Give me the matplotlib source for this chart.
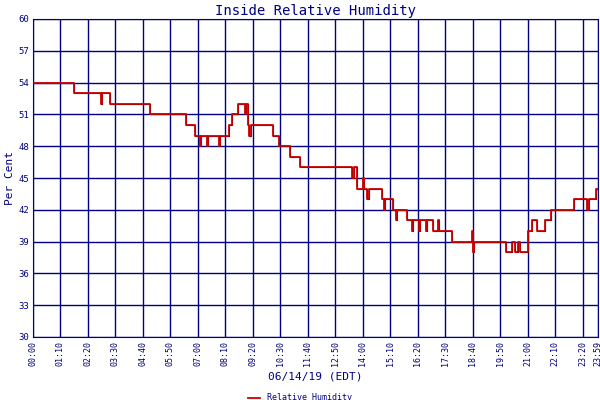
import matplotlib
matplotlib.use("Agg")
import matplotlib.pyplot as plt

# change points: hours, value (steps-post)
hours = [0, 1.74, 2.88, 2.92, 3.0, 3.27, 4.98, 5.02, 6.5, 6.88, 7.1, 7.14, 7.4, 7.45, 7.9, 7.95,
         8.33, 8.43, 8.72, 9.0, 9.06, 9.12, 9.18, 9.24, 10.2, 10.45, 10.9, 11.35,
         13.55, 13.62, 13.77, 14.0, 14.06, 14.2, 14.26, 14.8, 14.9, 14.95, 15.3, 15.4, 15.45,
         15.9, 16.1, 16.15, 16.4, 16.45, 16.7, 16.75, 17.0, 17.2, 17.25, 17.6, 17.8,
         18.65, 18.68, 18.72, 18.76, 20.1, 20.35, 20.45, 20.6, 20.7, 21.0, 21.2, 21.4, 21.75,
         22.0, 22.98, 23.52, 23.62, 23.9, 24.0]
values = [54, 53, 52, 53, 53, 52, 51, 51, 50, 49, 48, 49, 48, 49, 48, 49,
          50, 51, 52, 51, 52, 50, 49, 50, 49, 48, 47, 46,
          45, 46, 44, 45, 44, 43, 44, 43, 42, 43, 42, 41, 42,
          41, 40, 41, 40, 41, 40, 41, 40, 41, 40, 40, 39,
          40, 38, 39, 39, 38, 39, 38, 39, 38, 40, 41, 40, 41,
          42, 43, 42, 43, 44, 44]

tick_labels = ["00:00", "01:10", "02:20", "03:30", "04:40", "05:50", "07:00", "08:10", "09:20",
               "10:30", "11:40", "12:50", "14:00", "15:10", "16:20", "17:30", "18:40", "19:50",
               "21:00", "22:10", "23:20", "23:59"]
yticks = list(range(30, 61, 3))

navy = "#000080"
font = "DejaVu Sans Mono"
fig = plt.figure(figsize=(6, 4), dpi=100)
ax = fig.add_axes([0.055, 0.1575, 0.942, 0.795])
tick_pos = [int(t[:2]) + int(t[3:]) / 60 for t in tick_labels]
ax.set_xlim(0, 24)
ax.set_ylim(30, 60)
ax.set_xticks(tick_pos)
ax.set_xticklabels(tick_labels, rotation=90, fontsize=6, family=font, color=navy)
ax.set_yticks(yticks)
ax.set_yticklabels([str(v) for v in yticks], fontsize=6.5, family=font, color=navy)
ax.grid(True, color=navy, linewidth=1)
ax.tick_params(length=0, pad=3)
for s in ax.spines.values():
    s.set_color(navy)
ax.plot(hours, values, drawstyle="steps-post", color="black", linewidth=0.8, zorder=3)
ax.plot(hours, values, drawstyle="steps-post", color="#CC0000", linewidth=1.3, zorder=4,
        label="Relative Humidity")
ax.set_title("Inside Relative Humidity", fontsize=10, family=font, color=navy, pad=3)
ax.set_ylabel("Per Cent", fontsize=8, family=font, color=navy, labelpad=2)
ax.set_xlabel("06/14/19 (EDT)", fontsize=8, family=font, color=navy, labelpad=4)
leg = fig.legend(loc="lower center", bbox_to_anchor=(0.5, -0.025), frameon=False,
                 prop={"family": font, "size": 6}, handlelength=1.5)
for t in leg.get_texts():
    t.set_color(navy)
fig.savefig("out.png", dpi=100)
